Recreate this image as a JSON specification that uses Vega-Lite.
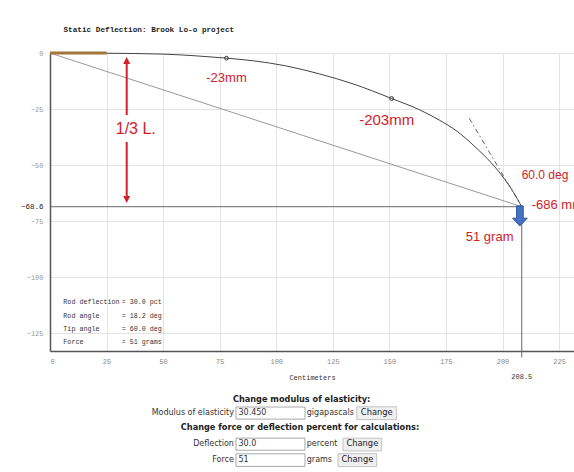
{
  "$schema": "https://vega.github.io/schema/vega-lite/v6.json",
  "width": 524,
  "height": 298,
  "autosize": {"type": "none"},
  "padding": {"left": 50, "top": 53, "right": 0, "bottom": 121},
  "background": "white",
  "title": {"text": "Static Deflection: Brook Lo-o project", "anchor": "start", "font": "Liberation Mono", "fontSize": 7.7, "fontWeight": "bold", "color": "#222", "dx": 43, "offset": 15},
  "config": {"view": {"stroke": null}},
  "layer": [
    {
      "data": {"values": [
        {"x": 0, "y": 0}, {"x": 25, "y": -0.1}, {"x": 50, "y": -0.5}, {"x": 65, "y": -1.3},
        {"x": 78, "y": -2.3}, {"x": 90, "y": -3.5}, {"x": 104, "y": -5.7}, {"x": 119, "y": -9.3},
        {"x": 134, "y": -13.8}, {"x": 151, "y": -20.3}, {"x": 163, "y": -25.2}, {"x": 172, "y": -29.9},
        {"x": 180, "y": -35.0}, {"x": 188, "y": -42.0}, {"x": 195, "y": -49.0}, {"x": 201, "y": -56.4},
        {"x": 205, "y": -62.4}, {"x": 208.5, "y": -68.6}
      ]},
      "mark": {"type": "line", "color": "#444", "strokeWidth": 1, "interpolate": "monotone"},
      "encoding": {
        "x": {"field": "x", "type": "quantitative",
          "scale": {"domain": [0, 231.6], "nice": false, "zero": false},
          "axis": {"values": [0, 25, 50, 75, 100, 125, 150, 175, 200, 225], "title": "Centimeters",
            "titleFont": "Liberation Mono", "titleFontSize": 7, "titleFontWeight": "normal", "titleColor": "#333", "titlePadding": 9,
            "labelFont": "Liberation Mono", "labelFontSize": 7, "labelColor": "#888", "labelPadding": 6,
            "ticks": false, "domainColor": "#555", "domainWidth": 1.5, "grid": true, "gridColor": "#e3e3e3"}},
        "y": {"field": "y", "type": "quantitative",
          "scale": {"domain": [-133, 0], "nice": false, "zero": false},
          "axis": {"values": [0, -25, -50, -68.6, -75, -100, -125], "title": null, "format": ".1~f",
            "labelFont": "Liberation Mono", "labelFontSize": {"condition": {"test": "datum.value == -68.6", "value": 7.5}, "value": 7},
            "labelColor": {"condition": {"test": "datum.value == -68.6", "value": "#222"}, "value": "#999"},
            "labelPadding": 7, "ticks": false, "domainColor": "#555", "domainWidth": 1.5,
            "grid": true, "gridColor": "#e3e3e3",
            "gridOpacity": {"condition": {"test": "datum.value == -68.6", "value": 0}, "value": 1}}}
      }
    },
    {
      "data": {"values": [{"x": 0, "y": 0}, {"x": 208.5, "y": -68.6}]},
      "mark": {"type": "line", "color": "#999", "strokeWidth": 1},
      "encoding": {"x": {"field": "x", "type": "quantitative"}, "y": {"field": "y", "type": "quantitative"}}
    },
    {
      "data": {"values": [{"x": 185.3, "y": -29.1}, {"x": 208.5, "y": -68.6}]},
      "mark": {"type": "line", "color": "#5a5f7a", "strokeWidth": 1, "strokeDash": [5, 3, 1.5, 3]},
      "encoding": {"x": {"field": "x", "type": "quantitative"}, "y": {"field": "y", "type": "quantitative"}}
    },
    {
      "data": {"values": [{"x": 0, "x2": 208.5, "y": -68.6}]},
      "mark": {"type": "rule", "color": "#666", "strokeWidth": 1},
      "encoding": {"x": {"field": "x", "type": "quantitative"}, "x2": {"field": "x2"}, "y": {"field": "y", "type": "quantitative"}}
    },
    {
      "data": {"values": [{"x": 208.5, "y": -68.6, "y2": -135.8}]},
      "mark": {"type": "rule", "color": "#666", "strokeWidth": 1},
      "encoding": {"x": {"field": "x", "type": "quantitative"}, "y": {"field": "y", "type": "quantitative"}, "y2": {"field": "y2"}}
    },
    {
      "data": {"values": [{"x": 0, "x2": 25, "y": 0}]},
      "mark": {"type": "rule", "color": "#a5763a", "strokeWidth": 3},
      "encoding": {"x": {"field": "x", "type": "quantitative"}, "x2": {"field": "x2"}, "y": {"field": "y", "type": "quantitative"}}
    },
    {
      "data": {"values": [{"x": 78, "y": -2.3}, {"x": 151, "y": -20.3}]},
      "mark": {"type": "point", "shape": "circle", "size": 14, "color": "#333", "strokeWidth": 1, "filled": false, "opacity": 1},
      "encoding": {"x": {"field": "x", "type": "quantitative"}, "y": {"field": "y", "type": "quantitative"}}
    },
    {
      "data": {"values": [{"x": 33.9, "y": -3.35, "y2": -27.7}, {"x": 33.9, "y": -39.7, "y2": -65.4}]},
      "mark": {"type": "rule", "color": "#d3202b", "strokeWidth": 2},
      "encoding": {"x": {"field": "x", "type": "quantitative"}, "y": {"field": "y", "type": "quantitative"}, "y2": {"field": "y2"}}
    },
    {
      "data": {"values": [{"x": 33.9, "y": -3.35}]},
      "mark": {"type": "point", "shape": "M0,-1L1,1L-1,1Z", "size": 49, "filled": true, "color": "#d3202b", "opacity": 1},
      "encoding": {"x": {"field": "x", "type": "quantitative"}, "y": {"field": "y", "type": "quantitative"}}
    },
    {
      "data": {"values": [{"x": 33.9, "y": -65.4}]},
      "mark": {"type": "point", "shape": "M-1,-1L1,-1L0,1Z", "size": 49, "filled": true, "color": "#d3202b", "opacity": 1},
      "encoding": {"x": {"field": "x", "type": "quantitative"}, "y": {"field": "y", "type": "quantitative"}}
    },
    {
      "data": {"values": [{"x": 207.7, "y": -72.7}]},
      "mark": {"type": "point", "shape": "M-0.45,-1.37L0.45,-1.37L0.45,0.32L1,0.32L0,1.37L-1,0.32L-0.45,0.32Z", "size": 213, "filled": true, "fill": "#4472c4", "stroke": "#2f528f", "strokeWidth": 1, "opacity": 1},
      "encoding": {"x": {"field": "x", "type": "quantitative"}, "y": {"field": "y", "type": "quantitative"}}
    },
    {
      "data": {"values": [{"x": 37.9, "y": -34.1, "t": "1/3  L."}]},
      "mark": {"type": "text", "font": "Liberation Sans", "fontSize": 16, "color": "#d3202b", "align": "center", "baseline": "middle"},
      "encoding": {"x": {"field": "x", "type": "quantitative"}, "y": {"field": "y", "type": "quantitative"}, "text": {"field": "t"}}
    },
    {
      "data": {"values": [{"x": 148.8, "y": -29.9, "t": "-203mm"}]},
      "mark": {"type": "text", "font": "Liberation Sans", "fontSize": 15, "color": "#d3202b", "align": "center", "baseline": "middle"},
      "encoding": {"x": {"field": "x", "type": "quantitative"}, "y": {"field": "y", "type": "quantitative"}, "text": {"field": "t"}}
    },
    {
      "data": {"values": [
        {"x": 78.0, "y": -11.3, "t": "-23mm"},
        {"x": 194.3, "y": -82.3, "t": "51 gram"}
      ]},
      "mark": {"type": "text", "font": "Liberation Sans", "fontSize": 13, "color": "#d3202b", "align": "center", "baseline": "middle"},
      "encoding": {"x": {"field": "x", "type": "quantitative"}, "y": {"field": "y", "type": "quantitative"}, "text": {"field": "t"}}
    },
    {
      "data": {"values": [{"x": 218.8, "y": -54.5, "t": "60.0 deg"}]},
      "mark": {"type": "text", "font": "Liberation Sans", "fontSize": 12, "color": "#d3202b", "align": "center", "baseline": "middle"},
      "encoding": {"x": {"field": "x", "type": "quantitative"}, "y": {"field": "y", "type": "quantitative"}, "text": {"field": "t"}}
    },
    {
      "data": {"values": [{"x": 212.9, "y": -67.8, "t": "-686 mm"}]},
      "mark": {"type": "text", "font": "Liberation Sans", "fontSize": 13, "color": "#d3202b", "align": "left", "baseline": "middle"},
      "encoding": {"x": {"field": "x", "type": "quantitative"}, "y": {"field": "y", "type": "quantitative"}, "text": {"field": "t"}}
    },
    {
      "data": {"values": [
        {"name": "Rod deflection", "val": "= 30.0 pct", "y": -111.1},
        {"name": "Rod angle", "val": "= 18.2 deg", "y": -117.2},
        {"name": "Tip angle", "val": "= 60.0 deg", "y": -123.2},
        {"name": "Force", "val": "= 51 grams", "y": -129.0}
      ]},
      "layer": [
        {
          "mark": {"type": "text", "font": "Liberation Mono", "fontSize": 6.7, "color": "#333", "align": "left", "baseline": "middle"},
          "encoding": {"x": {"datum": 5.9, "type": "quantitative"}, "y": {"field": "y", "type": "quantitative"}, "text": {"field": "name"}}
        },
        {
          "mark": {"type": "text", "font": "Liberation Mono", "fontSize": 6.7, "color": "#333", "align": "left", "baseline": "middle"},
          "encoding": {"x": {"datum": 31.7, "type": "quantitative"}, "y": {"field": "y", "type": "quantitative"}, "text": {"field": "val"}}
        }
      ]
    },
    {
      "data": {"values": [{"x": 208.5, "y": -144.6, "t": "208.5"}]},
      "mark": {"type": "text", "font": "Liberation Mono", "fontSize": 7, "color": "#333", "align": "center", "baseline": "middle"},
      "encoding": {"x": {"field": "x", "type": "quantitative"}, "y": {"field": "y", "type": "quantitative"}, "text": {"field": "t"}}
    },
    {
      "data": {"values": [
        {"x": 82.2, "x2": 112.7, "y": -158.0, "y2": -163.4},
        {"x": 82.2, "x2": 112.7, "y": -171.9, "y2": -177.3},
        {"x": 82.2, "x2": 112.7, "y": -178.9, "y2": -184.5}
      ]},
      "mark": {"type": "rect", "fill": "white", "stroke": "#a8a8a8", "strokeWidth": 1},
      "encoding": {"x": {"field": "x", "type": "quantitative"}, "x2": {"field": "x2"}, "y": {"field": "y", "type": "quantitative"}, "y2": {"field": "y2"}}
    },
    {
      "data": {"values": [
        {"x": 135.6, "x2": 153.2, "y": -157.9, "y2": -163.6},
        {"x": 129.5, "x2": 146.6, "y": -171.9, "y2": -177.6},
        {"x": 127.3, "x2": 144.4, "y": -178.8, "y2": -184.6}
      ]},
      "mark": {"type": "rect", "fill": "#efefef", "stroke": "#c4c4c4", "strokeWidth": 1},
      "encoding": {"x": {"field": "x", "type": "quantitative"}, "x2": {"field": "x2"}, "y": {"field": "y", "type": "quantitative"}, "y2": {"field": "y2"}}
    },
    {
      "data": {"values": [
        {"x": 111.2, "y": -154.9, "t": "Change modulus of elasticity:"},
        {"x": 110.5, "y": -167.4, "t": "Change force or deflection percent for calculations:"}
      ]},
      "mark": {"type": "text", "font": "DejaVu Sans", "fontSize": 8.2, "fontWeight": "bold", "color": "#222", "align": "center", "baseline": "middle"},
      "encoding": {"x": {"field": "x", "type": "quantitative"}, "y": {"field": "y", "type": "quantitative"}, "text": {"field": "t"}}
    },
    {
      "data": {"values": [
        {"x": 81.3, "y": -160.7, "t": "Modulus of elasticity"},
        {"x": 81.3, "y": -174.6, "t": "Deflection"},
        {"x": 81.3, "y": -181.7, "t": "Force"}
      ]},
      "mark": {"type": "text", "font": "DejaVu Sans", "fontSize": 8, "color": "#333", "align": "right", "baseline": "middle"},
      "encoding": {"x": {"field": "x", "type": "quantitative"}, "y": {"field": "y", "type": "quantitative"}, "text": {"field": "t"}}
    },
    {
      "data": {"values": [
        {"x": 83.3, "y": -160.7, "t": "30.450"},
        {"x": 83.3, "y": -174.6, "t": "30.0"},
        {"x": 83.3, "y": -181.7, "t": "51"},
        {"x": 113.5, "y": -160.7, "t": "gigapascals"},
        {"x": 113.5, "y": -174.6, "t": "percent"},
        {"x": 113.5, "y": -181.7, "t": "grams"}
      ]},
      "mark": {"type": "text", "font": "DejaVu Sans", "fontSize": 8, "color": "#333", "align": "left", "baseline": "middle"},
      "encoding": {"x": {"field": "x", "type": "quantitative"}, "y": {"field": "y", "type": "quantitative"}, "text": {"field": "t"}}
    },
    {
      "data": {"values": [
        {"x": 144.4, "y": -160.7, "t": "Change"},
        {"x": 138.05, "y": -174.7, "t": "Change"},
        {"x": 135.85, "y": -181.7, "t": "Change"}
      ]},
      "mark": {"type": "text", "font": "DejaVu Sans", "fontSize": 8.3, "color": "#222", "align": "center", "baseline": "middle"},
      "encoding": {"x": {"field": "x", "type": "quantitative"}, "y": {"field": "y", "type": "quantitative"}, "text": {"field": "t"}}
    }
  ]
}
